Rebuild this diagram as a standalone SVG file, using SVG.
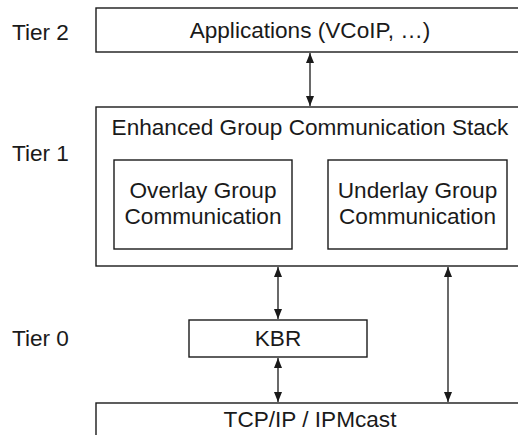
<svg xmlns="http://www.w3.org/2000/svg" width="518" height="435" viewBox="0 0 518 435">
<style>
.box{fill:#fff;stroke:#1a1a1a;stroke-width:1.4}
.t{font-family:"Liberation Sans",Arial,sans-serif;font-size:22.6px;fill:#1a1a1a;text-anchor:middle}
.tier{font-family:"Liberation Sans",Arial,sans-serif;font-size:22.6px;fill:#1a1a1a}
.c{stroke:#1a1a1a;stroke-width:1.3;fill:none;marker-start:url(#ah);marker-end:url(#ah)}
</style>
<defs>
<marker id="ah" viewBox="0 0 10 10" refX="10" refY="5" markerWidth="10" markerHeight="10" markerUnits="userSpaceOnUse" orient="auto-start-reverse">
<path d="M0,1 L10,5 L0,9 Z" fill="#1a1a1a"/>
</marker>
</defs>
<rect width="518" height="435" fill="#fff"/>
<g id="tier-labels">
<text class="tier" x="12" y="40">Tier 2</text>
<text class="tier" x="12" y="161">Tier 1</text>
<text class="tier" x="12" y="346">Tier 0</text>
</g>
<g id="applications">
<rect class="box" x="96" y="8" width="430" height="44"/>
<text class="t" x="310" y="38">Applications (VCoIP, …)</text>
</g>
<g id="stack">
<rect class="box" x="96" y="107" width="430" height="159"/>
<text class="t" x="310" y="135">Enhanced Group Communication Stack</text>
</g>
<g id="overlay">
<rect class="box" x="114" y="160" width="178" height="89"/>
<text class="t" x="203" y="198">Overlay Group</text>
<text class="t" x="203" y="224">Communication</text>
</g>
<g id="underlay">
<rect class="box" x="328" y="160" width="179" height="89"/>
<text class="t" x="417.5" y="198">Underlay Group</text>
<text class="t" x="417.5" y="224">Communication</text>
</g>
<g id="kbr">
<rect class="box" x="189" y="320" width="178" height="37"/>
<text class="t" x="278" y="346">KBR</text>
</g>
<g id="tcpip">
<rect class="box" x="96" y="403" width="430" height="40"/>
<text class="t" x="310" y="427">TCP/IP / IPMcast</text>
</g>
<g id="connectors">
<line class="c" x1="310" y1="53" x2="310" y2="106"/>
<line class="c" x1="278" y1="267" x2="278" y2="319"/>
<line class="c" x1="278" y1="358" x2="278" y2="402"/>
<line class="c" x1="448" y1="267" x2="448" y2="402"/>
</g>
</svg>
